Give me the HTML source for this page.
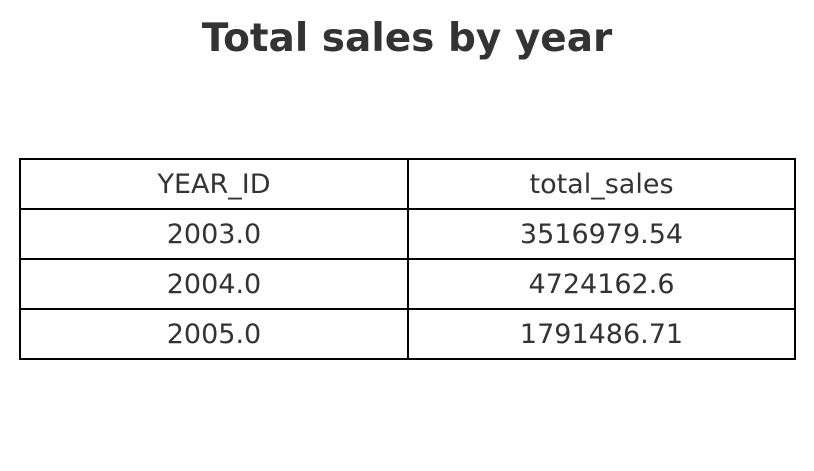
<!DOCTYPE html>
<html><head><meta charset="utf-8"><style>
body{margin:0;background:#fff;width:814px;height:471px;overflow:hidden}
svg{display:block}
text{font-family:"DejaVu Sans","Liberation Sans",sans-serif;fill:#333}
</style></head><body>
<svg width="814" height="471">
<text x="407" y="51" text-anchor="middle" font-size="39" font-weight="bold">Total sales by year</text>
<g id="tbl"></g>
</svg>
<script>
const headers = ["YEAR_ID", "total_sales"];
const years = ["2003.0", "2004.0", "2005.0"];
const sales = ["3516979.54", "4724162.6", "1791486.71"];
const g = document.getElementById('tbl');
const NS = "http://www.w3.org/2000/svg";
const x0 = 20, x1 = 408, x2 = 795, y0 = 159, rh = 50;
const rows = [headers].concat(years.map((y, i) => [y, sales[i]]));
rows.forEach((r, i) => {
  const y = y0 + i * rh;
  [[x0, x1], [x1, x2]].forEach((c, j) => {
    const rect = document.createElementNS(NS, 'rect');
    
    
    rect.setAttribute('x', c[0]); rect.setAttribute('y', y);
    rect.setAttribute('width', c[1] - c[0]); rect.setAttribute('height', rh);
    rect.setAttribute('fill', 'none'); rect.setAttribute('stroke', '#000'); rect.setAttribute('stroke-width', '2');
    g.appendChild(rect);
    const t = document.createElementNS(NS, 'text');
    
    
    t.setAttribute('x', (c[0] + c[1]) / 2); t.setAttribute('y', y + 34);
    t.setAttribute('text-anchor', 'middle'); t.setAttribute('font-size', '27');
    t.textContent = r[j];
    g.appendChild(t);
  });
});
</script>
</body></html>
